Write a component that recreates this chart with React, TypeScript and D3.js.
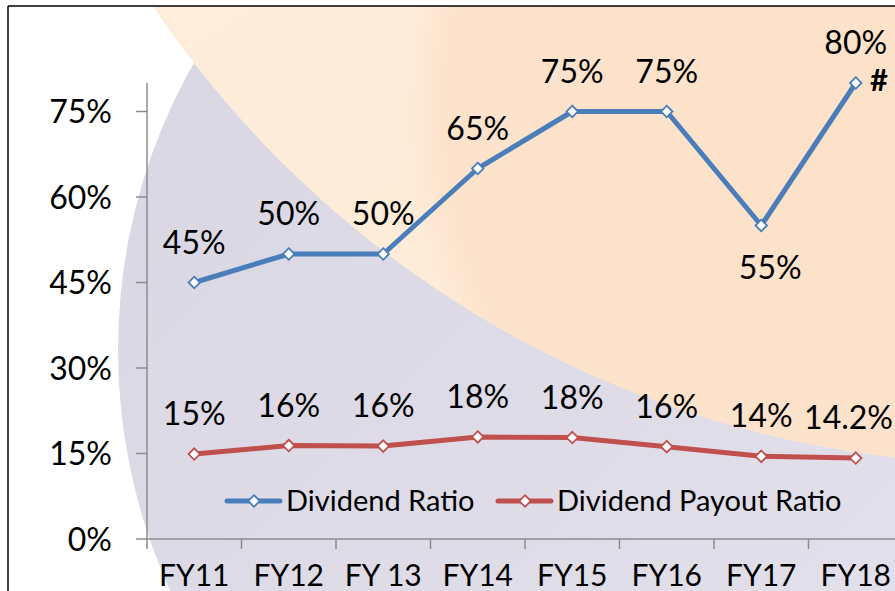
import React from 'react';
import * as d3 from 'd3';

const categories = ['FY11', 'FY12', 'FY 13', 'FY14', 'FY15', 'FY16', 'FY17', 'FY18'];
const dividendRatio = [0.45, 0.5, 0.5, 0.65, 0.75, 0.75, 0.55, 0.8];
const dividendRatioLabels = ['45%', '50%', '50%', '65%', '75%', '75%', '55%', '80%'];
const payoutRatio = [0.149, 0.164, 0.163, 0.179, 0.178, 0.162, 0.145, 0.142];
const payoutRatioLabels = ['15%', '16%', '16%', '18%', '18%', '16%', '14%', '14.2%'];
const yTicks = [0, 0.15, 0.3, 0.45, 0.6, 0.75];

const W = 895;
const H = 591;
const FONT = 'Lato, "Open Sans", sans-serif';
const BLUE = '#4a7ebb';
const RED = '#c0504d';

const x = d3.scaleBand<string>().domain(categories).range([147, 903]);
const y = d3.scaleLinear().domain([0, 0.8]).range([539, 83]);
const cx = (c: string) => (x(c) ?? 0) + x.bandwidth() / 2;

const diamond = d3.symbol().type(d3.symbolDiamond2).size(85);

function Series({ values, labels, color, below }: { values: number[]; labels: string[]; color: string; below?: number[] }) {
  const line = d3
    .line<number>()
    .x((_, i) => cx(categories[i]))
    .y((v) => y(v));
  return (
    <g>
      <path d={line(values) ?? ''} fill="none" stroke={color} strokeWidth={5} strokeLinejoin="round" />
      {values.map((v, i) => (
        <path
          key={i}
          d={diamond() ?? ''}
          transform={`translate(${cx(categories[i])},${y(v)})`}
          fill="#fff"
          stroke={color}
          strokeWidth={1.8}
        />
      ))}
      {values.map((v, i) => {
        const isBelow = below?.includes(i);
        // keep the last label inside the right edge
        const px = cx(categories[i]);
        const anchor = i === values.length - 1 && labels[i].length > 3 ? 'end' : 'middle';
        return (
          <text
            key={'l' + i}
            x={anchor === 'end' ? W - 2 : px + (isBelow ? 9 : 0)}
            y={y(v) + (isBelow ? 53 : -29)}
            textAnchor={anchor}
            fontSize={32}
            fill="#000"
          >
            {labels[i]}
          </text>
        );
      })}
    </g>
  );
}

export default function App() {
  const axisColor = '#8c8c8c';
  const boundaries = d3.range(categories.length + 1).map((i) => 147 + i * x.bandwidth());
  return (
    <div style={{ position: 'fixed', left: 0, top: 0 }}>
      <svg width={W} height={H} style={{ display: 'block', fontFamily: FONT }}>
        <defs>
          <clipPath id="frame">
            <rect x={8} y={6} width={W} height={H} />
          </clipPath>
          <linearGradient id="lav" x1="0" y1="0" x2="1" y2="1">
            <stop offset="0%" stopColor="#d8d5e2" />
            <stop offset="100%" stopColor="#e6e4ee" />
          </linearGradient>
          <linearGradient id="beige" x1="0" y1="0" x2="0.6" y2="1">
            <stop offset="0%" stopColor="#fef1e1" />
            <stop offset="100%" stopColor="#fdead5" />
          </linearGradient>
          <radialGradient id="peach">
            <stop offset="0%" stopColor="#fde1c9" />
            <stop offset="93%" stopColor="#fde3cc" />
            <stop offset="100%" stopColor="#fde3cc" stopOpacity={0} />
          </radialGradient>
          <clipPath id="beigeClip">
            <circle cx={1012} cy={-571} r={1035} />
          </clipPath>
        </defs>
        <rect width={W} height={H} fill="#fff" />
        <g clipPath="url(#frame)">
          <circle cx={700} cy={350} r={582} fill="url(#lav)" />
          <circle cx={1012} cy={-571} r={1035} fill="url(#beige)" />
          <g clipPath="url(#beigeClip)">
            <circle cx={905} cy={110} r={500} fill="url(#peach)" />
          </g>
        </g>
        <line x1={8} y1={6} x2={8} y2={H} stroke="#000" strokeWidth={1.5} />
        <line x1={8} y1={6} x2={W} y2={6} stroke="#000" strokeWidth={1.5} />

        {/* y axis */}
        <line x1={147} y1={y(0.8)} x2={147} y2={y(0)} stroke={axisColor} strokeWidth={1.5} />
        {yTicks.map((t) => (
          <g key={t}>
            <line x1={136} x2={147} y1={y(t)} y2={y(t)} stroke={axisColor} strokeWidth={1.5} />
            <text x={112} y={y(t)} dy="0.36em" textAnchor="end" fontSize={32}>
              {d3.format('.0%')(t)}
            </text>
          </g>
        ))}

        {/* x axis */}
        <line x1={147} y1={y(0)} x2={W} y2={y(0)} stroke={axisColor} strokeWidth={1.5} />
        {boundaries.map((b) => (
          <line key={b} x1={b} x2={b} y1={y(0)} y2={y(0) + 10} stroke={axisColor} strokeWidth={1.5} />
        ))}
        {categories.map((c) => (
          <text key={c} x={cx(c)} y={586} textAnchor="middle" fontSize={30}>
            {c}
          </text>
        ))}

        <Series values={dividendRatio} labels={dividendRatioLabels} color={BLUE} below={[6]} />
        <Series values={payoutRatio} labels={payoutRatioLabels} color={RED} />
        <text x={870} y={91} fontSize={31} fontWeight="bold">
          #
        </text>

        {/* legend */}
        {[
          { name: 'Dividend Ratio', color: BLUE, x0: 227 },
          { name: 'Dividend Payout Ratio', color: RED, x0: 498 },
        ].map((l) => (
          <g key={l.name} transform={`translate(${l.x0},501)`}>
            <line x1={0} x2={53} stroke={l.color} strokeWidth={5} strokeLinecap="round" />
            <path d={diamond() ?? ''} transform="translate(27,0)" fill="#fff" stroke={l.color} strokeWidth={1.8} />
            <text x={59} dy="0.36em" fontSize={29}>
              {l.name}
            </text>
          </g>
        ))}
      </svg>
    </div>
  );
}
